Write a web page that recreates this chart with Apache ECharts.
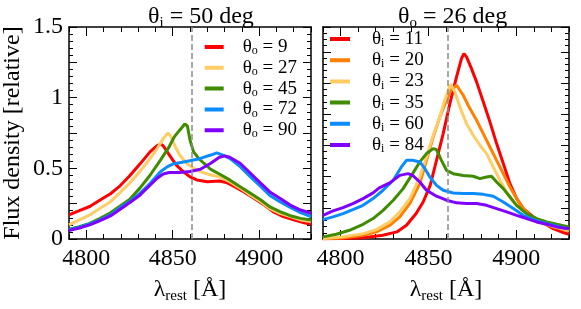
<!DOCTYPE html>
<html><head><meta charset="utf-8">
<script src="https://cdn.jsdelivr.net/npm/echarts@6/dist/echarts.min.js"></script>
<style>html,body{margin:0;padding:0;background:#fff}#c{width:581px;height:309px}</style>
</head><body><div id="c"></div>
<script>
// ---------- data ----------
const xMin = 4790, xMax = 4930;
const xTickLabels = [4800, 4850, 4900];
const yTickLabels = [0, 0.5, 1, 1.5];
const hBeta = 4861;

const leftTitle = 'θ{s|i} = 50 deg';
const rightTitle = 'θ{s|o} = 26 deg';
const leftNames = ['θo = 9', 'θo = 27', 'θo = 45', 'θo = 72', 'θo = 90'];
const rightNames = ['θi = 11', 'θi = 20', 'θi = 23', 'θi = 35', 'θi = 60', 'θi = 84'];
const leftColors = ['#ff0000', '#ffcc66', '#3f8c00', '#0a8cff', '#8000ff'];
const rightColors = ['#ff0000', '#ff8000', '#ffcc66', '#3f8c00', '#0a8cff', '#8000ff'];

// left panel (theta_i = 50 deg)
const left_o9 = [[4790,0.17],[4796,0.20],[4802,0.23],[4808,0.276],[4814,0.32],[4819,0.37],[4825,0.446],[4831,0.53],[4837,0.618],[4841,0.66],[4843,0.672],[4844.5,0.66],[4848,0.595],[4852,0.524],[4856,0.477],[4860,0.44],[4864,0.418],[4870,0.405],[4877,0.41],[4881,0.40],[4885,0.375],[4891,0.335],[4897,0.288],[4903,0.24],[4908,0.194],[4914,0.158],[4920,0.135],[4926,0.115],[4930,0.105]];
const left_o27 = [[4790,0.10],[4796,0.135],[4802,0.17],[4808,0.217],[4814,0.264],[4819,0.323],[4825,0.394],[4831,0.477],[4837,0.57],[4841,0.64],[4844.5,0.71],[4847,0.748],[4848.5,0.736],[4851,0.665],[4854,0.594],[4858,0.536],[4862,0.50],[4866,0.477],[4872,0.453],[4877,0.44],[4883,0.406],[4889,0.36],[4895,0.31],[4901,0.264],[4906,0.217],[4912,0.182],[4918,0.158],[4924,0.135],[4930,0.123]];
const left_o45 = [[4790,0.07],[4796,0.087],[4802,0.11],[4808,0.146],[4814,0.186],[4819,0.229],[4825,0.28],[4831,0.36],[4837,0.453],[4843,0.56],[4848,0.654],[4851,0.724],[4854,0.77],[4857,0.814],[4858.5,0.80],[4860,0.70],[4862,0.618],[4865,0.57],[4868,0.536],[4872,0.493],[4877,0.46],[4883,0.418],[4889,0.37],[4895,0.323],[4901,0.276],[4906,0.229],[4912,0.194],[4918,0.165],[4924,0.146],[4930,0.135]];
const left_o72 = [[4790,0.065],[4796,0.083],[4802,0.106],[4808,0.135],[4814,0.17],[4819,0.217],[4825,0.264],[4831,0.323],[4837,0.394],[4843,0.477],[4847,0.512],[4850,0.53],[4854,0.54],[4860,0.554],[4866,0.57],[4872,0.594],[4875.5,0.61],[4879,0.594],[4883,0.57],[4889,0.512],[4895,0.44],[4901,0.37],[4906,0.31],[4912,0.264],[4918,0.224],[4924,0.186],[4930,0.158]];
const left_o90 = [[4790,0.06],[4796,0.078],[4802,0.10],[4808,0.13],[4814,0.163],[4819,0.205],[4825,0.257],[4831,0.31],[4837,0.382],[4841,0.43],[4844.5,0.46],[4848,0.47],[4854,0.47],[4860,0.477],[4866,0.493],[4872,0.536],[4877,0.578],[4880,0.588],[4883,0.578],[4889,0.536],[4895,0.465],[4901,0.394],[4906,0.335],[4912,0.288],[4918,0.24],[4924,0.205],[4930,0.182]];

// right panel (theta_o = 26 deg)
const right_i11 = [[4790,0.003],[4801,0.004],[4813,0.01],[4824,0.03],[4832,0.057],[4837.5,0.11],[4843,0.204],[4847,0.297],[4851,0.43],[4854.6,0.631],[4858.4,0.845],[4862.2,1.086],[4866,1.30],[4868.8,1.447],[4870.2,1.487],[4871.7,1.46],[4874.5,1.366],[4877.4,1.26],[4881.2,1.10],[4885,0.939],[4888.8,0.765],[4892.6,0.605],[4896.4,0.444],[4900.2,0.324],[4904,0.244],[4909.7,0.177],[4915.4,0.129],[4921,0.083],[4926.8,0.051],[4930,0.038]];
const right_i20 = [[4790,0.003],[4801,0.008],[4813,0.03],[4820.4,0.057],[4828,0.11],[4833.7,0.177],[4839.4,0.284],[4845.1,0.444],[4848.9,0.631],[4852.7,0.818],[4856.5,0.979],[4860.3,1.113],[4863.1,1.20],[4866,1.233],[4869.8,1.153],[4873.6,1.046],[4877.4,0.952],[4881.2,0.845],[4885,0.738],[4888.8,0.631],[4892.6,0.524],[4896.4,0.417],[4900.2,0.324],[4904,0.244],[4909.7,0.164],[4915.4,0.123],[4921,0.097],[4926.8,0.075],[4930,0.065]];
const right_i23 = [[4790,0.003],[4801,0.017],[4813,0.043],[4820.4,0.075],[4828,0.137],[4833.7,0.217],[4839.4,0.324],[4845.1,0.497],[4848.9,0.658],[4852.7,0.832],[4856.5,0.979],[4859.3,1.113],[4862.5,1.24],[4865,1.18],[4867.9,1.059],[4871.7,0.925],[4875.5,0.832],[4879.3,0.752],[4883.1,0.685],[4886.9,0.578],[4890.7,0.471],[4894.5,0.377],[4898.3,0.297],[4902.1,0.244],[4907.8,0.182],[4911.6,0.15],[4917.3,0.118],[4923,0.091],[4930,0.07]];
const right_i35 = [[4790,0.017],[4797.6,0.038],[4805,0.07],[4812.8,0.118],[4818.5,0.164],[4824.2,0.23],[4830,0.311],[4835.6,0.404],[4841,0.524],[4845.1,0.618],[4848.9,0.685],[4852.7,0.725],[4854.6,0.717],[4857.4,0.631],[4860.3,0.551],[4864.1,0.524],[4869.8,0.51],[4875.5,0.503],[4879.3,0.484],[4883.1,0.497],[4885.9,0.503],[4888.8,0.457],[4892.6,0.404],[4896.4,0.337],[4900.2,0.27],[4905.9,0.204],[4911.6,0.164],[4917.3,0.137],[4923,0.118],[4930,0.097]];
const right_i60 = [[4790,0.155],[4795.7,0.177],[4801.4,0.204],[4807,0.236],[4812.8,0.27],[4818.5,0.324],[4824.2,0.391],[4830,0.471],[4834.6,0.578],[4837.5,0.631],[4841,0.631],[4845.1,0.618],[4848,0.564],[4850.8,0.497],[4854.6,0.43],[4858.4,0.391],[4864.1,0.369],[4869.8,0.364],[4875.5,0.364],[4881.2,0.358],[4886.9,0.343],[4892.6,0.297],[4898.3,0.244],[4904,0.19],[4909.7,0.155],[4915.4,0.131],[4921,0.11],[4926.8,0.091],[4930,0.083]];
const right_i84 = [[4790,0.19],[4795.7,0.225],[4801.4,0.252],[4807,0.284],[4812.8,0.324],[4818.5,0.37],[4822,0.41],[4828,0.45],[4833.7,0.51],[4838.4,0.524],[4841,0.51],[4845.1,0.457],[4848.9,0.391],[4854.6,0.343],[4860.3,0.311],[4866,0.29],[4871.7,0.284],[4877.4,0.284],[4883.1,0.27],[4888.8,0.244],[4894.5,0.217],[4900.2,0.19],[4905.9,0.164],[4911.6,0.137],[4917.3,0.118],[4923,0.097],[4926.8,0.089],[4930,0.085]];

const leftData = [left_o9, left_o27, left_o45, left_o72, left_o90];
const rightData = [right_i11, right_i20, right_i23, right_i35, right_i60, right_i84];

// ---------- styling ----------
const FONT = '"Liberation Serif", "DejaVu Serif", serif';
const INK = '#000';
const subRich = { s: { fontSize: 15, fontFamily: FONT, color: INK, verticalAlign: 'bottom', lineHeight: 15 } };

function xAxesFor(g) {
  const base = { gridIndex: g, type: 'value', min: xMin, max: xMax, splitLine: { show: false } };
  const tickStyle = { color: INK, width: 1 };
  return [
    Object.assign({}, base, {
      position: 'bottom', interval: 10,
      axisLine: { show: true, onZero: false, lineStyle: { color: INK, width: 1.5 } },
      axisTick: { show: true, inside: true, length: 5, lineStyle: tickStyle },
      axisLabel: { show: true, margin: 8, fontSize: 24, fontFamily: FONT, color: INK,
        formatter: v => xTickLabels.includes(Math.round(v)) ? String(Math.round(v)) : '' },
      name: 'λ{s|rest} [Å]', nameLocation: 'middle', nameGap: 35,
      nameTextStyle: { fontSize: 24, fontFamily: FONT, color: INK, lineHeight: 28, rich: subRich }
    }),
    Object.assign({}, base, {
      position: 'top', interval: 10,
      axisLine: { show: true, onZero: false, lineStyle: { color: INK, width: 1.5 } },
      axisTick: { show: true, inside: true, length: 5, lineStyle: tickStyle },
      axisLabel: { show: false }
    }),
    Object.assign({}, base, {
      position: 'bottom',
      axisLine: { show: false, onZero: false },
      axisTick: { show: true, inside: true, length: 9, customValues: xTickLabels, lineStyle: tickStyle },
      axisLabel: { show: false }
    }),
    Object.assign({}, base, {
      position: 'top',
      axisLine: { show: false, onZero: false },
      axisTick: { show: true, inside: true, length: 9, customValues: xTickLabels, lineStyle: tickStyle },
      axisLabel: { show: false }
    })
  ];
}

function yAxesFor(g, yMax, withLabels) {
  const base = { gridIndex: g, type: 'value', min: 0, max: yMax, interval: 0.25, splitLine: { show: false },
    axisLine: { show: true, onZero: false, lineStyle: { color: INK, width: 1.5 } },
    axisTick: { show: true, inside: true, length: 8, lineStyle: { color: INK, width: 1 } },
    minorTick: { show: true, splitNumber: 5, length: 4, lineStyle: { color: INK, width: 1 } } };
  const left = Object.assign({}, base, { position: 'left',
    axisLabel: withLabels ? { show: true, margin: 6, fontSize: 24, fontFamily: FONT, color: INK,
      formatter: v => yTickLabels.some(t => Math.abs(t - v) < 1e-6) ? String(+v.toFixed(2)) : '' } : { show: false } });
  if (withLabels) {
    Object.assign(left, { name: 'Flux density [relative]', nameLocation: 'middle', nameGap: 44,
      nameTextStyle: { fontSize: 24, fontFamily: FONT, color: INK } });
  }
  const right = Object.assign({}, base, { position: 'right', axisLabel: { show: false } });
  return [left, right];
}

const xAxes = xAxesFor(0).concat(xAxesFor(1));
const yAxes = yAxesFor(0, 1.5, true).concat(yAxesFor(1, 1.7, false));

function lineSeries(names, datas, colors, xi, yi) {
  return names.map((n, i) => ({
    name: n, type: 'line', xAxisIndex: xi, yAxisIndex: yi, data: datas[i],
    showSymbol: false, symbol: 'none', color: colors[i], z: 3,
    lineStyle: { color: colors[i], width: 3 }, animation: false
  }));
}
function refLine(xi, yi) {
  return { type: 'line', xAxisIndex: xi, yAxisIndex: yi, data: [], z: 2, silent: true,
    markLine: { silent: true, symbol: 'none', animation: false, label: { show: false },
      lineStyle: { color: '#8c8c8c', type: [6, 3], width: 1.5 }, data: [{ xAxis: hBeta }] } };
}

// legend icon: a short bar on the left of a wider (empty) item box, leaving a gap before the text
function legendFor(names, pos, top, barW, boxW, itemGap) {
  return Object.assign({
    data: names, top: top, orient: 'vertical', padding: 0, align: 'left',
    itemWidth: boxW, itemHeight: 4, itemGap: itemGap, selectedMode: false,
    icon: 'path://M0,0H' + barW + 'V4H0Z M' + boxW + ',0L' + boxW + ',4',
    itemStyle: { borderWidth: 0 },
    textStyle: { fontSize: 19, fontFamily: FONT, color: INK, lineHeight: 20,
      rich: { s: { fontSize: 12, fontFamily: FONT, color: INK, verticalAlign: 'bottom', lineHeight: 12 } } },
    formatter: n => 'θ{s|' + n.charAt(1) + '}' + n.slice(2)
  }, pos);
}

const option = {
  backgroundColor: '#fff',
  animation: false,
  title: [
    { text: leftTitle, left: 148, top: 3, padding: 0,
      textStyle: { fontSize: 24, fontWeight: 'normal', fontFamily: FONT, color: INK, lineHeight: 28, rich: subRich } },
    { text: rightTitle, left: 398, top: 3, padding: 0,
      textStyle: { fontSize: 24, fontWeight: 'normal', fontFamily: FONT, color: INK, lineHeight: 28, rich: subRich } }
  ],
  legend: [legendFor(leftNames, { right: 284 }, 37, 19, 33, 0.8), legendFor(rightNames, { left: 330 }, 29, 20, 37, 1.2)],
  grid: [
    { left: 69, top: 27, width: 242, height: 212 },
    { left: 323, top: 27, width: 246, height: 212 }
  ],
  xAxis: xAxes,
  yAxis: yAxes,
  series: [refLine(0, 0), refLine(4, 2)]
    .concat(lineSeries(leftNames, leftData, leftColors, 0, 0))
    .concat(lineSeries(rightNames, rightData, rightColors, 4, 2))
};

const chart = echarts.init(document.getElementById('c'), null, { renderer: 'canvas' });
chart.setOption(option);
</script>
</body></html>
